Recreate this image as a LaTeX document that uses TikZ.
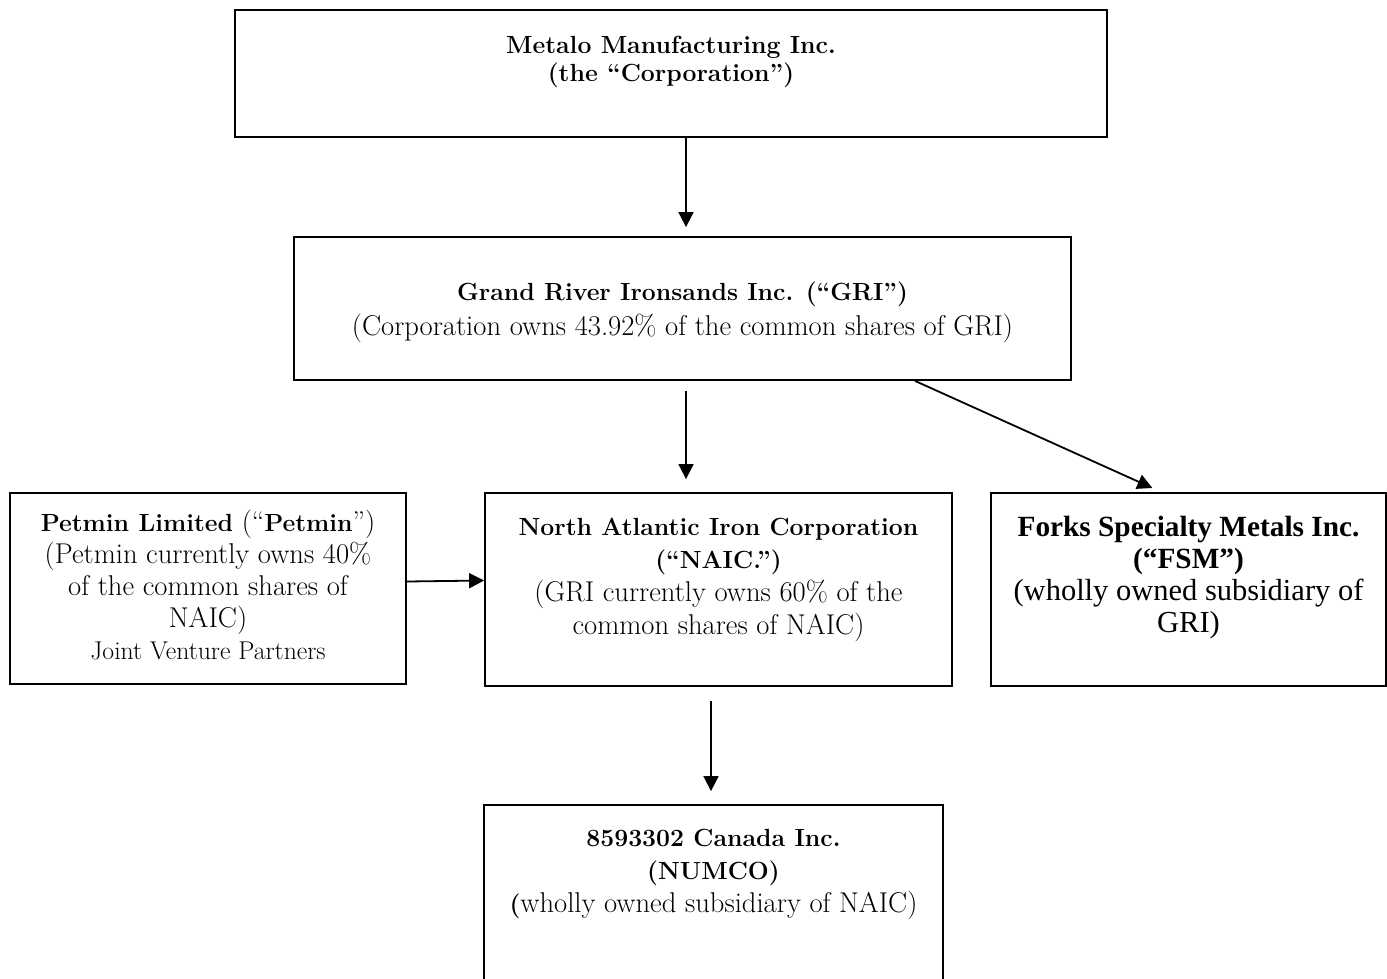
\documentclass[tikz,border=0pt]{standalone}
\usepackage{fontspec}
\newfontfamily\timesfont{Liberation Serif}
\usetikzlibrary{arrows.meta,positioning,calc}

% bold part of a Garamond-like line, set a little smaller than the regular text
\newcommand\boldpart[1]{{\fontsize{24.8}{33}\selectfont\bfseries #1}}

\tikzset{
  box/.style={draw, line width=1.8, rectangle, inner sep=0},
  boxtext/.style={inner sep=0, align=center, font=\fontsize{28.6}{33}\selectfont},
  timestext/.style={inner sep=0, align=center, font=\timesfont\fontsize{30.5}{32}\selectfont},
  arr/.style={line width=1.8, -{Triangle[length=15,width=15]}}
}

\begin{document}
\begin{tikzpicture}[x=1pt,y=1pt,yscale=-1,xscale=1]
\clip (0,0) rectangle (1387,978);

%Shape: Rectangle [metalo]
\node[box, minimum width=872, minimum height=127] (metalo) at (671,73.5) {};
%Shape: Rectangle [gri]
\node[box, minimum width=777, minimum height=143] (gri) at (682.5,308.5) {};
%Shape: Rectangle [petmin]
\node[box, minimum width=396, minimum height=191] (petmin) at (208,588.5) {};
%Shape: Rectangle [naic]
\node[box, minimum width=467, minimum height=193] (naic) at (718.5,589.5) {};
%Shape: Rectangle [fsm]
\node[box, minimum width=395, minimum height=193] (fsm) at (1188.5,589.5) {};
%Shape: Rectangle [numco]
\node[box, minimum width=459, minimum height=200] (numco) at (713.5,905) {};

% Text Node
\node[boxtext, font=\bfseries\fontsize{24.8}{28}\selectfont, below=27pt of metalo.north] (metalo-txt)
  {Metalo Manufacturing Inc.\\(the “Corporation”)};
% Text Node
\node[boxtext, below=46pt of gri.north] (gri-txt)
  {\boldpart{Grand River Ironsands Inc. (“GRI”)}\\[2pt](Corporation owns 43.92\% of the common shares of GRI)};
% Text Node
\node[boxtext, font=\fontsize{28.6}{32}\selectfont, below=18pt of petmin.north] (petmin-txt)
  {\boldpart{Petmin Limited} (“\boldpart{Petmin}”)\\(Petmin currently owns 40\%\\of the common shares of\\NAIC)\\{\fontsize{25.7}{32}\selectfont Joint Venture Partners}};
% Text Node
\node[boxtext, below=26pt of naic.north] (naic-txt)
  {\boldpart{North Atlantic Iron Corporation}\\\boldpart{(“NAIC.”)}\\(GRI currently owns 60\% of the\\common shares of NAIC)};
% Text Node
\node[timestext, below=24pt of fsm.north] (fsm-txt)
  {{\bfseries\fontsize{29.3}{32}\selectfont Forks Specialty Metals Inc.}\\{\bfseries\fontsize{29.3}{32}\selectfont (“FSM”)}\\(wholly owned subsidiary of\\GRI)};
% Text Node
\node[boxtext, below=25pt of numco.north] (numco-txt)
  {\boldpart{8593302 Canada Inc.}\\\boldpart{(NUMCO)}\\\boldpart{(}wholly owned subsidiary of NAIC)};

% connector end points
\coordinate (m-out) at ($(metalo.south)+(15,0)$);
\coordinate (g-out) at ($(gri.south)+(3.5,0)$);
\coordinate (g-diag) at ($(gri.south)+(232.5,0)$);
\coordinate (f-in) at ($(fsm.north)+(-27,0)$);
\coordinate (n-out) at ($(naic.south)+(-7.5,0)$);

%Straight Lines
\draw[arr, shorten >=9] (m-out) -- (m-out |- gri.north);
\draw[arr, shorten <=10, shorten >=13] (g-out) -- (g-out |- naic.north);
\draw[arr, shorten >=10] (g-diag) -- (f-in);
\draw[arr] ($(petmin.east)+(0,-7)$) -- ($(naic.west)+(0,-9)$);
\draw[arr, shorten <=14, shorten >=13] (n-out) -- (n-out |- numco.north);

\end{tikzpicture}
\end{document}
